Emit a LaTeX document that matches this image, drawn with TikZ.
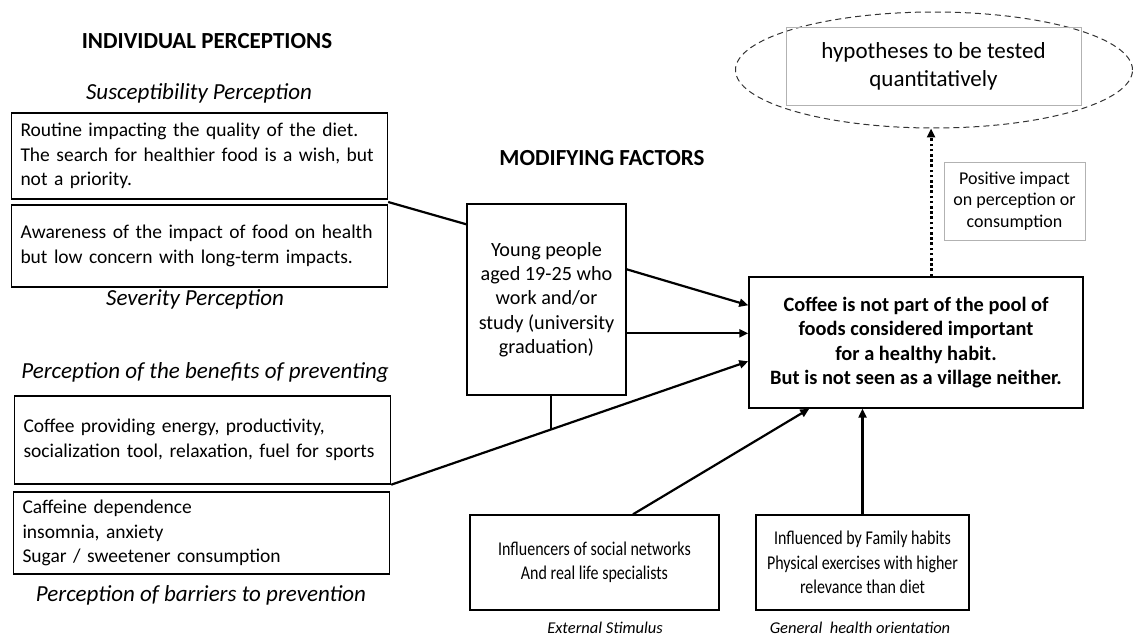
\documentclass[tikz,border=0pt]{standalone}
\usepackage{fontspec}
\setmainfont{Carlito}
\newfontfamily\narrowfont[FakeStretch=0.82]{Carlito}
\usetikzlibrary{arrows.meta,calc,shapes.geometric}
\begin{document}
\begin{tikzpicture}[x=1pt,y=-1pt,
  box/.style={draw=black,line width=1.4pt,inner sep=0pt,font=\fontsize{19.5}{24.5}\selectfont},
  lbox/.style={box,align=left,text width=358pt,inner xsep=9pt},
  cbox/.style={box,align=center},
  nbox/.style={box,align=center,font=\narrowfont\fontsize{19.5}{24.5}\selectfont},
  thinbox/.style={draw=black!30,line width=0.6pt,inner sep=0pt,align=center},
  titletxt/.style={font=\fontsize{23}{27}\selectfont\bfseries},
  captxt/.style={font=\fontsize{23}{27}\selectfont\itshape},
  capsmall/.style={font=\fontsize{16.5}{20}\selectfont\itshape},
  link/.style={line width=2.2pt},
  arr/.style={line width=2.2pt,-{Triangle[length=9pt,width=8pt]}},
  dotarr/.style={line width=3pt,dash pattern=on 2.6pt off 2.6pt,-{Triangle[length=9pt,width=8pt]}}
]
\useasboundingbox[fill=white] (0,0) rectangle (1133,639);

% titles and captions
\node[titletxt] (t1) at (207,41) {INDIVIDUAL PERCEPTIONS};
\node[titletxt] (t2) at (602,158) {MODIFYING FACTORS};
\node[captxt] (c1) at (199,93) {Susceptibility Perception};
\node[captxt] (c2) at (195,299) {Severity Perception};
\node[captxt] (c3) at (205,372) {Perception of the benefits of preventing};
\node[captxt] (c4) at (201,595) {Perception of barriers to prevention};
\node[capsmall] (c5) at (605,628) {External Stimulus};
\node[capsmall] (c6) at (860,628) {General\ \ health orientation};

% left boxes
\node[lbox,minimum width=375pt,minimum height=86pt] (b1) at (199.5,156)
 {Routine impacting the quality of the diet.\\The search for healthier food is a wish, but\\not a priority.};
\node[lbox,minimum width=375pt,minimum height=82pt] (b2) at (199.5,246)
 {Awareness of the impact of food on health\\but low concern with long-term impacts.};
\node[lbox,minimum width=375pt,minimum height=88pt] (b3) at (202.5,440)
 {Coffee providing energy, productivity,\\socialization tool, relaxation, fuel for sports};
\node[lbox,minimum width=375pt,minimum height=82pt] (b4) at (201.5,533)
 {Caffeine dependence\\insomnia, anxiety\\Sugar / sweetener consumption};

% modifying factor box
\node[cbox,minimum width=159pt,minimum height=191pt,font=\fontsize{20.2}{24.3}\selectfont] (young) at (546.5,299.5)
 {Young people\\aged 19-25 who\\work and/or\\study (university\\graduation)};

% main box
\node[cbox,minimum width=334pt,minimum height=131pt,font=\fontsize{20.4}{24.5}\selectfont\bfseries] (main) at (916,342.5)
 {Coffee is not part of the pool of\\foods considered important\\for a healthy habit.\\But is not seen as a village neither.};

% bottom boxes
\node[nbox,minimum width=249pt,minimum height=95pt] (ext) at (594.5,562.5)
 {Influencers of social networks\\And real life specialists};
\node[nbox,minimum width=213pt,minimum height=95pt] (health) at (862.5,562.5)
 {Influenced by Family habits\\Physical exercises with higher\\relevance than diet};

% hypotheses
\node[draw=black!80,line width=1pt,dash pattern=on 6pt off 4pt,ellipse,minimum width=397pt,minimum height=116pt] (ell) at (934,70) {};
\node[thinbox,minimum width=295pt,minimum height=78pt,font=\fontsize{23}{28}\selectfont] (hyp) at (933.5,66)
 {hypotheses to be tested\\quantitatively};
\node[thinbox,minimum width=141pt,minimum height=78pt,font=\fontsize{18}{21.5}\selectfont] (pos) at (1014.5,201)
 {Positive impact\\on perception or\\consumption};

% connectors
\coordinate (jA) at ($(b1.south east)!0.5!(b2.north east)$);
\draw[link] (jA) -- ($(young.north west)+(0,21)$);
\draw[arr] ($(young.north east)+(0,66)$) -- ($(main.north west)+(0,29)$);
\draw[arr] ($(young.north east)+(0,130)$) -- ($(main.north west)+(0,57)$);
\coordinate (mIn) at ($(main.north west)+(0,85)$);
\draw[arr] (b3.south east) -- (mIn);
\coordinate (jB) at ($(b3.south east)!0.448!(mIn)$);
\draw[link] (young.south -| jB) -- (jB);
\draw[arr] ($(ext.north)+(38.5,0)$) -- ($(main.south west)+(61,0)$);
\draw[arr] (health.north) -- (health.north |- main.south);
\coordinate (mTop) at ($(main.north)+(15,0)$);
\draw[dotarr] (mTop) -- (mTop |- ell.south);
\end{tikzpicture}
\end{document}
